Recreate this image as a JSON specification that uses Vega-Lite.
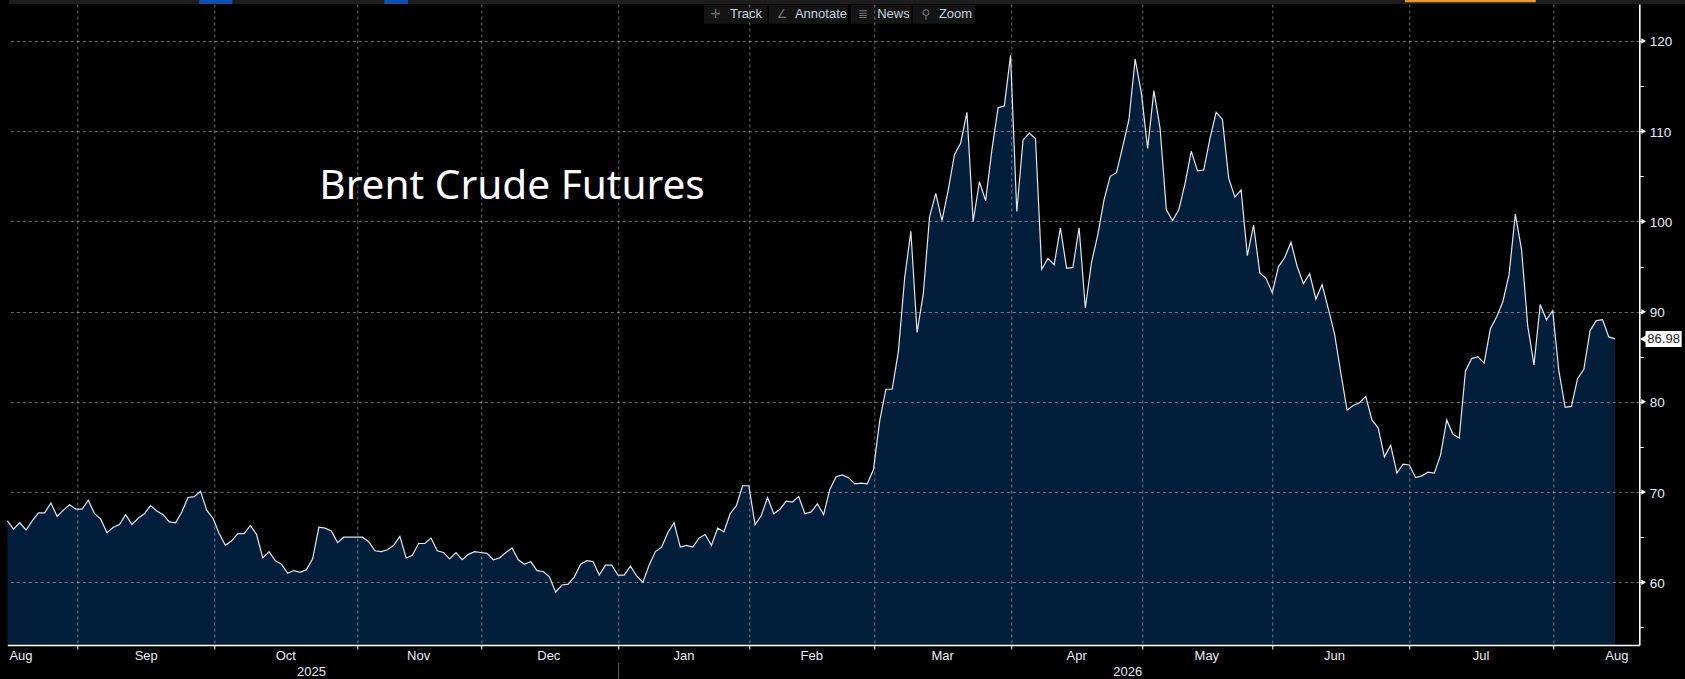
{"$schema":"https://vega.github.io/schema/vega-lite/v6.json","width":1632,"height":641,"autosize":{"type":"none"},"padding":{"left":7.3,"top":4,"right":45.7,"bottom":34},"background":"#000000","config":{"view":{"stroke":null}},
"datasets":{"prices":[
{"session":1,"price":66.8},{"session":2,"price":65.9},{"session":3,"price":66.6},{"session":4,"price":65.8},{"session":5,"price":66.8},{"session":6,"price":67.7},{"session":7,"price":67.7},{"session":8,"price":68.8},{"session":9,"price":67.3},{"session":10,"price":68.0},
{"session":11,"price":68.6},{"session":12,"price":68.1},{"session":13,"price":68.1},{"session":14,"price":69.1},{"session":15,"price":67.6},{"session":16,"price":67.0},{"session":17,"price":65.5},{"session":18,"price":66.1},{"session":19,"price":66.4},{"session":20,"price":67.5},
{"session":21,"price":66.4},{"session":22,"price":67.1},{"session":23,"price":67.6},{"session":24,"price":68.5},{"session":25,"price":67.9},{"session":26,"price":67.5},{"session":27,"price":66.7},{"session":28,"price":66.6},{"session":29,"price":67.8},{"session":30,"price":69.4},
{"session":31,"price":69.5},{"session":32,"price":70.1},{"session":33,"price":68.0},{"session":34,"price":67.1},{"session":35,"price":65.4},{"session":36,"price":64.1},{"session":37,"price":64.6},{"session":38,"price":65.4},{"session":39,"price":65.4},{"session":40,"price":66.3},
{"session":41,"price":65.3},{"session":42,"price":62.7},{"session":43,"price":63.4},{"session":44,"price":62.4},{"session":45,"price":62.0},{"session":46,"price":61.0},{"session":47,"price":61.3},{"session":48,"price":61.1},{"session":49,"price":61.4},{"session":50,"price":62.6},
{"session":51,"price":66.1},{"session":52,"price":66.0},{"session":53,"price":65.7},{"session":54,"price":64.4},{"session":55,"price":65.0},{"session":56,"price":65.0},{"session":57,"price":65.0},{"session":58,"price":65.0},{"session":59,"price":64.5},{"session":60,"price":63.5},
{"session":61,"price":63.4},{"session":62,"price":63.6},{"session":63,"price":64.1},{"session":64,"price":65.1},{"session":65,"price":62.7},{"session":66,"price":63.0},{"session":67,"price":64.3},{"session":68,"price":64.3},{"session":69,"price":64.9},{"session":70,"price":63.5},
{"session":71,"price":63.3},{"session":72,"price":62.6},{"session":73,"price":63.3},{"session":74,"price":62.5},{"session":75,"price":63.1},{"session":76,"price":63.4},{"session":77,"price":63.3},{"session":78,"price":63.2},{"session":79,"price":62.5},{"session":80,"price":62.7},
{"session":81,"price":63.3},{"session":82,"price":63.8},{"session":83,"price":62.5},{"session":84,"price":62.0},{"session":85,"price":62.3},{"session":86,"price":61.3},{"session":87,"price":61.2},{"session":88,"price":60.6},{"session":89,"price":58.9},{"session":90,"price":59.7},
{"session":91,"price":59.8},{"session":92,"price":60.6},{"session":93,"price":62.0},{"session":94,"price":62.4},{"session":95,"price":62.3},{"session":96,"price":60.8},{"session":97,"price":61.9},{"session":98,"price":61.9},{"session":99,"price":60.8},{"session":100,"price":60.8},
{"session":101,"price":61.8},{"session":102,"price":60.7},{"session":103,"price":60.0},{"session":104,"price":61.9},{"session":105,"price":63.4},{"session":106,"price":63.9},{"session":107,"price":65.5},{"session":108,"price":66.6},{"session":109,"price":63.9},{"session":110,"price":64.1},
{"session":111,"price":63.9},{"session":112,"price":64.9},{"session":113,"price":65.3},{"session":114,"price":64.1},{"session":115,"price":66.0},{"session":116,"price":65.6},{"session":117,"price":67.6},{"session":118,"price":68.5},{"session":119,"price":70.7},{"session":120,"price":70.7},
{"session":121,"price":66.4},{"session":122,"price":67.4},{"session":123,"price":69.4},{"session":124,"price":67.6},{"session":125,"price":68.1},{"session":126,"price":69.0},{"session":127,"price":68.9},{"session":128,"price":69.5},{"session":129,"price":67.6},{"session":130,"price":67.8},
{"session":131,"price":68.7},{"session":132,"price":67.5},{"session":133,"price":70.3},{"session":134,"price":71.7},{"session":135,"price":71.9},{"session":136,"price":71.6},{"session":137,"price":70.9},{"session":138,"price":71.0},{"session":139,"price":70.9},{"session":140,"price":72.5},
{"session":141,"price":77.9},{"session":142,"price":81.4},{"session":143,"price":81.4},{"session":144,"price":85.6},{"session":145,"price":93.7},{"session":146,"price":98.9},{"session":147,"price":87.7},{"session":148,"price":92.0},{"session":149,"price":100.5},{"session":150,"price":103.1},
{"session":151,"price":100.1},{"session":152,"price":103.5},{"session":153,"price":107.4},{"session":154,"price":108.7},{"session":155,"price":112.1},{"session":156,"price":100.0},{"session":157,"price":104.4},{"session":158,"price":102.3},{"session":159,"price":107.9},{"session":160,"price":112.6},
{"session":161,"price":112.8},{"session":162,"price":118.4},{"session":163,"price":101.1},{"session":164,"price":109.0},{"session":165,"price":109.8},{"session":166,"price":109.2},{"session":167,"price":94.7},{"session":168,"price":95.9},{"session":169,"price":95.2},{"session":170,"price":99.3},
{"session":171,"price":94.8},{"session":172,"price":94.9},{"session":173,"price":99.3},{"session":174,"price":90.4},{"session":175,"price":95.5},{"session":176,"price":98.5},{"session":177,"price":102.4},{"session":178,"price":105.0},{"session":179,"price":105.4},{"session":180,"price":108.3},
{"session":181,"price":111.3},{"session":182,"price":118.0},{"session":183,"price":114.2},{"session":184,"price":108.1},{"session":185,"price":114.5},{"session":186,"price":110.3},{"session":187,"price":101.3},{"session":188,"price":100.1},{"session":189,"price":101.3},{"session":190,"price":104.2},
{"session":191,"price":107.8},{"session":192,"price":105.6},{"session":193,"price":105.7},{"session":194,"price":109.2},{"session":195,"price":112.1},{"session":196,"price":111.3},{"session":197,"price":104.8},{"session":198,"price":102.7},{"session":199,"price":103.5},{"session":200,"price":96.2},
{"session":201,"price":99.6},{"session":202,"price":94.3},{"session":203,"price":93.7},{"session":204,"price":92.1},{"session":205,"price":95.0},{"session":206,"price":96.0},{"session":207,"price":97.7},{"session":208,"price":95.0},{"session":209,"price":93.1},{"session":210,"price":94.2},
{"session":211,"price":91.4},{"session":212,"price":93.0},{"session":213,"price":90.3},{"session":214,"price":87.5},{"session":215,"price":83.2},{"session":216,"price":79.1},{"session":217,"price":79.6},{"session":218,"price":79.9},{"session":219,"price":80.6},{"session":220,"price":78.0},
{"session":221,"price":77.1},{"session":222,"price":73.9},{"session":223,"price":75.2},{"session":224,"price":72.1},{"session":225,"price":73.1},{"session":226,"price":73.0},{"session":227,"price":71.6},{"session":228,"price":71.8},{"session":229,"price":72.2},{"session":230,"price":72.1},
{"session":231,"price":74.1},{"session":232,"price":78.0},{"session":233,"price":76.4},{"session":234,"price":76.0},{"session":235,"price":83.4},{"session":236,"price":84.8},{"session":237,"price":85.0},{"session":238,"price":84.3},{"session":239,"price":88.1},{"session":240,"price":89.4},
{"session":241,"price":91.1},{"session":242,"price":94.1},{"session":243,"price":100.8},{"session":244,"price":96.9},{"session":245,"price":88.4},{"session":246,"price":84.1},{"session":247,"price":90.8},{"session":248,"price":89.1},{"session":249,"price":90.1},{"session":250,"price":83.4},
{"session":251,"price":79.4},{"session":252,"price":79.5},{"session":253,"price":82.6},{"session":254,"price":83.6},{"session":255,"price":87.9},{"session":256,"price":89.0},{"session":257,"price":89.1},{"session":258,"price":87.2},{"session":259,"price":86.98}
],
"panels":[
{"part":"strip","session":1.3,"session2":270.2,"price":124.1,"price2":124.55},
{"part":"blue","session":31.8,"session2":37.1,"price":124.1,"price2":124.55},
{"part":"blue","session":61.5,"session2":65.3,"price":124.1,"price2":124.55},
{"part":"orange","session":225.3,"session2":246.3,"price":124.3,"price2":124.55},
{"part":"button","session":112.8,"session2":122.9,"price":124.0,"price2":121.9},
{"part":"button","session":123.2,"session2":135.9,"price":124.0,"price2":121.9},
{"part":"button","session":136.4,"session2":146.0,"price":124.0,"price2":121.9},
{"part":"button","session":146.3,"session2":156.3,"price":124.0,"price2":121.9},
{"part":"last","session":263.9,"session2":269.7,"price":87.85,"price2":86.08}
]},
"encoding":{
"x":{"field":"session","type":"quantitative","scale":{"domain":[1,262.9],"nice":false,"zero":false},"axis":{"title":null,"labels":false,"values":[12.3,34.2,57.2,77.1,99.1,120.1,140.1,162.1,183.1,204,226,249.1],"orient":"bottom","grid":true,"gridColor":"#ffffff","gridOpacity":0.42,"gridDash":[3,3],"gridWidth":1,"domainColor":"#ffffff","domainWidth":1.6,"tickColor":"#ffffff","tickSize":4,"tickWidth":1,"zindex":1}},
"y":{"field":"price","type":"quantitative","scale":{"domain":[53.05,124.1],"nice":false,"zero":false},"axis":{"title":null,"orient":"right","values":[55,60,65,70,75,80,85,90,95,100,105,110,115,120],"labelExpr":"datum.value % 10 == 0 ? datum.label : ''","grid":true,"gridColor":"#ffffff","gridDash":[3,3],"gridWidth":1,"gridOpacity":{"condition":{"test":"datum.value % 10 == 0","value":0.42},"value":0},"domainColor":"#ffffff","domainWidth":1.6,"tickColor":"#ffffff","tickSize":4,"tickWidth":1,"labelPadding":6,"labelOffset":1,"labelColor":"#e6eef6","labelFont":"Liberation Sans","labelFontSize":13.5,"zindex":1}}
},
"layer":[
{"data":{"name":"panels"},"mark":{"type":"rect","clip":false},"encoding":{"x2":{"field":"session2"},"y2":{"field":"price2"},"color":{"field":"part","type":"nominal","legend":null,"scale":{"domain":["strip","blue","orange","button","last"],"range":["#1e1e1e","#0a52b8","#f7941d","#141414","#ffffff"]}}}},
{"data":{"name":"prices"},"mark":{"type":"area","color":"#031e3a","interpolate":"linear","clip":true}},
{"data":{"name":"prices"},"mark":{"type":"line","color":"#e2e7ec","strokeWidth":1.2,"interpolate":"linear"}},
{"data":{"values":[{"session":82,"price":102.5,"label":"Brent Crude Futures"}]},"mark":{"type":"text","font":"Noto Sans","fontSize":40.6,"color":"#ffffff","align":"center","baseline":"alphabetic"},"encoding":{"text":{"field":"label"}}},
{"data":{"values":[{"session":116.98,"price":122.96,"label":"Track"},{"session":127.4,"price":122.96,"label":"Annotate"},{"session":140.6,"price":122.96,"label":"News"},{"session":150.5,"price":122.96,"label":"Zoom"}]},"mark":{"type":"text","font":"Liberation Sans","fontSize":13,"color":"#c8d4e0","align":"left","baseline":"middle"},"encoding":{"text":{"field":"label"}}},
{"data":{"values":[{"session":114.7,"price":122.96,"label":"✛"},{"session":125.3,"price":122.96,"label":"∠"},{"session":138.3,"price":122.96,"label":"≣"},{"session":148.4,"price":122.96,"label":"⚲"}]},"mark":{"type":"text","font":"DejaVu Sans","fontSize":12,"color":"#777777","align":"center","baseline":"middle"},"encoding":{"text":{"field":"label"}}},
{"data":{"values":[{"session":3.2,"price":51.86,"label":"Aug"},{"session":23.3,"price":51.86,"label":"Sep"},{"session":45.7,"price":51.86,"label":"Oct"},{"session":67,"price":51.86,"label":"Nov"},{"session":87.9,"price":51.86,"label":"Dec"},{"session":109.6,"price":51.86,"label":"Jan"},{"session":130.1,"price":51.86,"label":"Feb"},{"session":151.1,"price":51.86,"label":"Mar"},{"session":172.6,"price":51.86,"label":"Apr"},{"session":193.5,"price":51.86,"label":"May"},{"session":214,"price":51.86,"label":"Jun"},{"session":237.5,"price":51.86,"label":"Jul"},{"session":259.3,"price":51.86,"label":"Aug"},{"session":49.8,"price":50.1,"label":"2025"},{"session":180.8,"price":50.1,"label":"2026"}]},"mark":{"type":"text","font":"Liberation Sans","fontSize":13,"color":"#e6eef6","align":"center","baseline":"middle"},"encoding":{"text":{"field":"label"}}},
{"data":{"values":[{"session":99.1,"price":51.05,"price2":49.3}]},"mark":{"type":"rule","color":"#666666","strokeWidth":1,"clip":false},"encoding":{"y2":{"field":"price2"}}},
{"data":{"values":[{"session":263.6,"price":60},{"session":263.6,"price":70},{"session":263.6,"price":80},{"session":263.6,"price":90},{"session":263.6,"price":100},{"session":263.6,"price":110},{"session":263.6,"price":120}]},"mark":{"type":"point","shape":"triangle-right","filled":true,"color":"#ffffff","opacity":1,"size":30,"clip":false}},
{"data":{"values":[{"session":263.5,"price":86.98}]},"mark":{"type":"point","shape":"triangle-left","filled":true,"color":"#ffffff","opacity":1,"size":50,"clip":false}},
{"data":{"values":[{"session":266.8,"price":86.98,"label":"86.98"}]},"mark":{"type":"text","font":"Liberation Sans","fontSize":13,"color":"#222222","align":"center","baseline":"middle"},"encoding":{"text":{"field":"label"}}}
]}
